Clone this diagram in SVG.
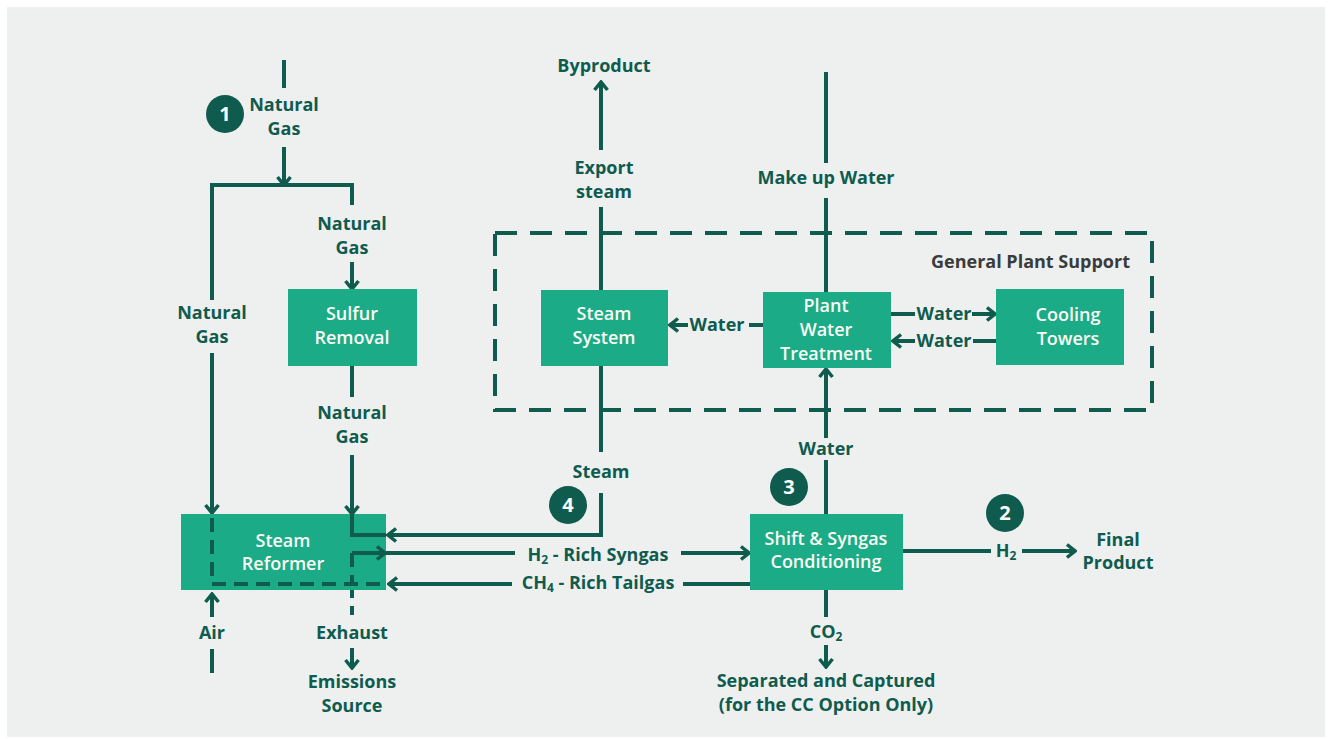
<svg xmlns="http://www.w3.org/2000/svg" width="1328" height="739" viewBox="0 0 1328 739">
<style>
.ln{stroke:#0f5b4e;stroke-width:4;fill:none}
.ds{stroke:#0f5b4e;stroke-width:4;fill:none;stroke-dasharray:14 8}
.frame{stroke:#0f5b4e;stroke-width:4;fill:none;stroke-dasharray:22 13}
.box{fill:#1bab87}
.t{font-family:"Open Sans","Liberation Sans",sans-serif;font-weight:700;font-size:18px;fill:#0f5b4e;text-anchor:middle}
.bt{font-family:"Open Sans","Liberation Sans",sans-serif;font-weight:600;font-size:18px;fill:#fbfbf3;text-anchor:middle}
.g{font-family:"Open Sans","Liberation Sans",sans-serif;font-weight:700;font-size:18px;fill:#3b3b3b;text-anchor:end}
.num{font-family:"Open Sans","Liberation Sans",sans-serif;font-weight:700;font-size:20px;fill:#ffffff;text-anchor:middle}
.sub{font-size:12px}
</style>
<defs>
<marker id="ah" viewBox="0 0 12 16" refX="10" refY="8" markerWidth="12" markerHeight="16" markerUnits="userSpaceOnUse" orient="auto">
<path d="M2,1.5 L10,8 L2,14.5" fill="none" stroke="#0f5b4e" stroke-width="3.5"/>
</marker>
</defs>
<rect x="0" y="0" width="1328" height="739" fill="#ffffff"/>
<rect x="7" y="7" width="1318" height="730" fill="#eef0f0"/>

<g id="plant-support">
<rect class="frame" x="495" y="233" width="657" height="177"/>
<text class="g" x="1130" y="268">General Plant Support</text>
</g>

<g id="connectors">
<line class="ln" x1="284" y1="60" x2="284" y2="88"/>
<line class="ln" x1="284" y1="147" x2="284" y2="185" marker-end="url(#ah)"/>
<path class="ln" d="M212,300 V185 H352 V205"/>
<line class="ln" x1="212" y1="353" x2="212" y2="513" marker-end="url(#ah)"/>
<line class="ln" x1="352" y1="262" x2="352" y2="289" marker-end="url(#ah)"/>
<line class="ln" x1="352" y1="366" x2="352" y2="397"/>
<line class="ln" x1="352" y1="455" x2="352" y2="514" marker-end="url(#ah)"/>
<path class="ln" d="M601,493 V535 H388" marker-end="url(#ah)"/>
<line class="ln" x1="601" y1="366" x2="601" y2="452"/>
<line class="ln" x1="386" y1="553" x2="515" y2="553"/>
<line class="ln" x1="681" y1="553" x2="749" y2="553" marker-end="url(#ah)"/>
<path class="ds" d="M352,584 V615"/>
<line class="ln" x1="750" y1="584" x2="683" y2="584"/>
<line class="ln" x1="512" y1="584" x2="389" y2="584" marker-end="url(#ah)"/>
<line class="ln" x1="212" y1="617" x2="212" y2="594" marker-end="url(#ah)"/>
<line class="ln" x1="212" y1="649" x2="212" y2="673"/>
<line class="ln" x1="352" y1="648" x2="352" y2="668" marker-end="url(#ah)"/>
<line class="ln" x1="601" y1="290" x2="601" y2="207"/>
<line class="ln" x1="601" y1="150" x2="601" y2="82" marker-end="url(#ah)"/>
<line class="ln" x1="826" y1="72" x2="826" y2="163"/>
<line class="ln" x1="826" y1="198" x2="826" y2="292"/>
<line class="ln" x1="826" y1="514" x2="826" y2="460"/>
<line class="ln" x1="826" y1="438" x2="826" y2="369" marker-end="url(#ah)"/>
<line class="ln" x1="763" y1="325" x2="749" y2="325"/>
<line class="ln" x1="688" y1="325" x2="670" y2="325" marker-end="url(#ah)"/>
<line class="ln" x1="891" y1="314" x2="915" y2="314"/>
<line class="ln" x1="972" y1="314" x2="995" y2="314" marker-end="url(#ah)"/>
<line class="ln" x1="996" y1="341" x2="973" y2="341"/>
<line class="ln" x1="915" y1="341" x2="893" y2="341" marker-end="url(#ah)"/>
<line class="ln" x1="903" y1="551" x2="991" y2="551"/>
<line class="ln" x1="1022" y1="551" x2="1075" y2="551" marker-end="url(#ah)"/>
<line class="ln" x1="826" y1="590" x2="826" y2="617"/>
<line class="ln" x1="826" y1="645" x2="826" y2="667" marker-end="url(#ah)"/>
</g>

<g id="labels">
<text class="t" x="284" y="111">Natural</text>
<text class="t" x="284" y="135">Gas</text>
<text class="t" x="212" y="319">Natural</text>
<text class="t" x="212" y="343">Gas</text>
<text class="t" x="352" y="230">Natural</text>
<text class="t" x="352" y="254">Gas</text>
<text class="t" x="352" y="419">Natural</text>
<text class="t" x="352" y="443">Gas</text>
<text class="t" x="604" y="72">Byproduct</text>
<text class="t" x="604" y="174">Export</text>
<text class="t" x="604" y="198">steam</text>
<text class="t" x="826" y="184">Make up Water</text>
<text class="t" x="601" y="478">Steam</text>
<text class="t" x="826" y="455">Water</text>
<text class="t" x="717" y="331">Water</text>
<text class="t" x="944" y="320">Water</text>
<text class="t" x="944" y="347">Water</text>
<text class="t" x="598" y="561">H<tspan class="sub" dy="3">2</tspan><tspan dy="-3"> - Rich Syngas</tspan></text>
<text class="t" x="598" y="589">CH<tspan class="sub" dy="3">4</tspan><tspan dy="-3"> - Rich Tailgas</tspan></text>
<text class="t" x="1006" y="557">H<tspan class="sub" dy="3">2</tspan></text>
<text class="t" x="1118" y="546">Final</text>
<text class="t" x="1118" y="569">Product</text>
<text class="t" x="826" y="638">CO<tspan class="sub" dy="3">2</tspan></text>
<text class="t" x="826" y="687">Separated and Captured</text>
<text class="t" x="826" y="711">(for the CC Option Only)</text>
<text class="t" x="212" y="639">Air</text>
<text class="t" x="352" y="639">Exhaust</text>
<text class="t" x="352" y="688">Emissions</text>
<text class="t" x="352" y="712">Source</text>
</g>

<g id="steam-reformer">
<rect class="box" x="181" y="514" width="205" height="76"/>
<path class="ln" d="M352,514 V535 H386"/>
<path class="ln" d="M352,553 H385" marker-end="url(#ah)"/>
<path class="ds" d="M212,518 V584 H386"/>
<path class="ds" d="M352,553 V584"/>
<text class="bt" x="283" y="547">Steam</text>
<text class="bt" x="283" y="570">Reformer</text>
</g>

<g id="sulfur-removal">
<rect class="box" x="288" y="289" width="129" height="77"/>
<text class="bt" x="352" y="320">Sulfur</text>
<text class="bt" x="352" y="344">Removal</text>
</g>

<g id="steam-system">
<rect class="box" x="541" y="290" width="127" height="76"/>
<text class="bt" x="604" y="320">Steam</text>
<text class="bt" x="604" y="344">System</text>
</g>

<g id="plant-water-treatment">
<rect class="box" x="763" y="292" width="128" height="76"/>
<text class="bt" x="826" y="312">Plant</text>
<text class="bt" x="826" y="336">Water</text>
<text class="bt" x="826" y="360">Treatment</text>
</g>

<g id="cooling-towers">
<rect class="box" x="996" y="289" width="128" height="76"/>
<text class="bt" x="1068" y="321">Cooling</text>
<text class="bt" x="1068" y="345">Towers</text>
</g>

<g id="shift-conditioning">
<rect class="box" x="750" y="514" width="153" height="76"/>
<text class="bt" x="826" y="545">Shift &amp; Syngas</text>
<text class="bt" x="826" y="568">Conditioning</text>
</g>

<g id="badge-1"><circle cx="225" cy="114" r="19" fill="#0f5b4e"/><text class="num" x="225" y="121">1</text></g>
<g id="badge-2"><circle cx="1005" cy="513" r="19" fill="#0f5b4e"/><text class="num" x="1005" y="520">2</text></g>
<g id="badge-3"><circle cx="789" cy="487" r="19" fill="#0f5b4e"/><text class="num" x="789" y="494">3</text></g>
<g id="badge-4"><circle cx="568" cy="505" r="19" fill="#0f5b4e"/><text class="num" x="568" y="512">4</text></g>
</svg>
